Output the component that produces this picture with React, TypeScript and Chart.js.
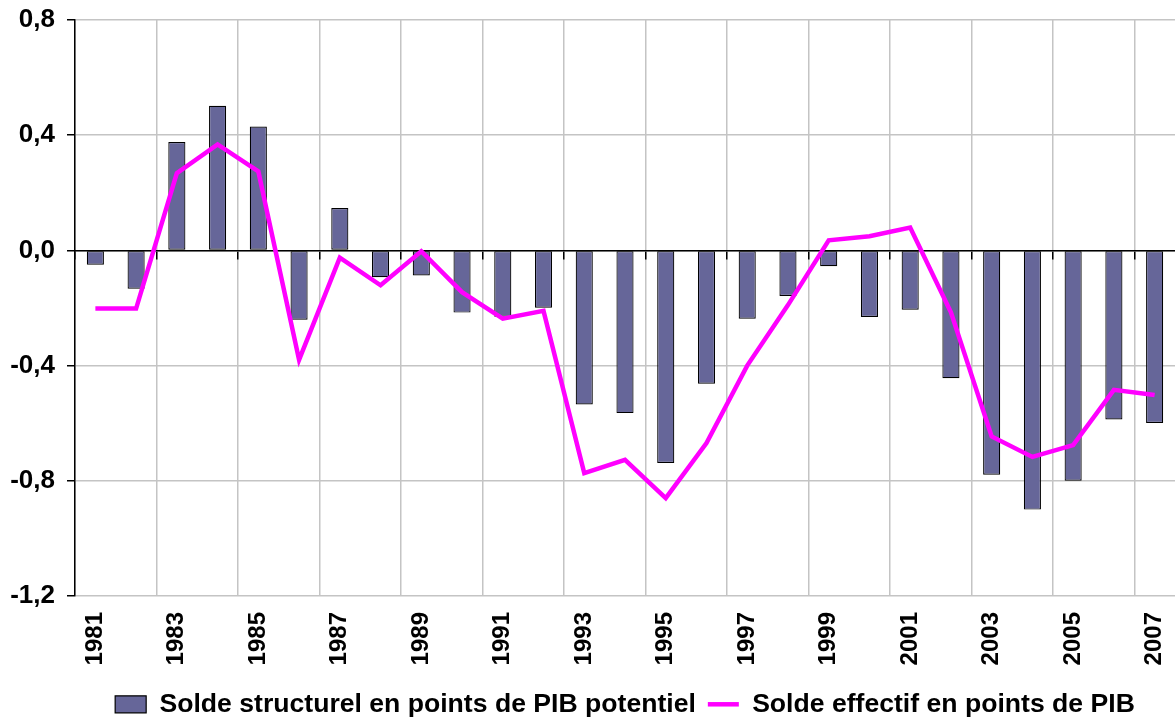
import { useEffect, useRef } from 'react';
import { Chart, registerables } from 'chart.js';

Chart.register(...registerables);

const years = [
  '1981', '1982', '1983', '1984', '1985', '1986', '1987', '1988', '1989', '1990',
  '1991', '1992', '1993', '1994', '1995', '1996', '1997', '1998', '1999', '2000',
  '2001', '2002', '2003', '2004', '2005', '2006', '2007',
];

const structuralBalance = [
  -0.05, -0.133, 0.376, 0.502, 0.43, -0.241, 0.147, -0.093, -0.087, -0.216,
  -0.23, -0.199, -0.535, -0.565, -0.738, -0.463, -0.237, -0.158, -0.055, -0.231,
  -0.206, -0.444, -0.779, -0.9, -0.8, -0.587, -0.599,
];

const effectiveBalance = [
  -0.202, -0.202, 0.268, 0.368, 0.274, -0.38, -0.025, -0.121, -0.003, -0.145,
  -0.237, -0.21, -0.773, -0.727, -0.86, -0.669, -0.4, -0.19, 0.035, 0.049,
  0.079, -0.215, -0.646, -0.717, -0.676, -0.484, -0.502,
];

const seriesNames = [
  'Solde structurel en points de PIB potentiel',
  'Solde effectif en points de PIB',
];

const yMin = -1.2;
const yMax = 0.8;
const yStep = 0.4;

const FONT = '"Liberation Sans", Arial, Helvetica, sans-serif';
const GRID = '#c4c4c4';

function fmt(v: number): string {
  let n = Math.round(Number(v) * 10) / 10;
  if (n === 0) n = 0;
  return n.toFixed(1).replace('.', ',');
}

export default function App() {
  const ref = useRef<HTMLCanvasElement>(null);

  useEffect(() => {
    if (!ref.current) return;
    Chart.defaults.font.family = FONT;
    Chart.defaults.color = '#000';
    const chart = new Chart(ref.current, {
      type: 'bar',
      data: {
        labels: years,
        datasets: [
          {
            type: 'bar',
            label: seriesNames[0],
            data: structuralBalance,
            backgroundColor: '#666699',
            borderColor: '#000000',
            borderWidth: 1.2,
            borderSkipped: false,
            barPercentage: 0.42,
            categoryPercentage: 1,
            order: 1,
            pointStyle: 'rect',
          } as any,
          {
            type: 'line',
            label: seriesNames[1],
            data: effectiveBalance,
            borderColor: '#ff00ff',
            backgroundColor: '#ff00ff',
            borderWidth: 4.5,
            pointRadius: 0,
            pointHoverRadius: 0,
            pointBorderWidth: 4.5,
            pointBorderColor: '#ff00ff',
            pointBackgroundColor: '#ff00ff',
            pointStyle: 'line',
            tension: 0,
            fill: false,
            order: 0,
          } as any,
        ],
      },
      options: {
        responsive: false,
        animation: false,
        layout: { padding: { top: 20, right: 0, left: 0, bottom: 0 } },
        plugins: {
          legend: {
            position: 'bottom',
            fullSize: false,
            maxHeight: 41,
            labels: {
              usePointStyle: true,
              pointStyleWidth: 31,
              boxHeight: 17,
              padding: 12,
              color: '#000',
              font: { size: 26.6, weight: 'bold', family: FONT },
              sort: (a: any, b: any) => a.datasetIndex - b.datasetIndex,
            },
          } as any,
          tooltip: { enabled: false },
        },
        scales: {
          x: {
            type: 'category',
            offset: true,
            grid: {
              offset: true,
              drawTicks: false,
              lineWidth: 1.5,
              color: (ctx: any) => (ctx.index % 2 === 0 ? GRID : 'rgba(0,0,0,0)'),
            },
            border: { display: false },
            ticks: {
              autoSkip: false,
              minRotation: 90,
              maxRotation: 90,
              padding: 16,
              color: '#000',
              font: { size: 24, weight: 'bold', family: FONT },
              callback: (_v: any, i: number) => (i % 2 === 0 ? years[i] : ''),
            },
            afterFit: (s: any) => {
              s.height = 83;
              s.paddingLeft = 0;
              s.paddingRight = 0;
            },
          } as any,
          xZero: {
            type: 'category',
            axis: 'x',
            position: { y: 0 },
            offset: true,
            grid: {
              offset: true,
              drawOnChartArea: false,
              drawTicks: true,
              tickLength: 8,
              lineWidth: 1.5,
              color: (ctx: any) => (ctx.index % 2 === 0 ? '#000' : 'rgba(0,0,0,0)'),
            },
            border: { display: true, color: '#000', width: 1.5 },
            ticks: { display: false },
            afterFit: (s: any) => {
              s.paddingLeft = 0;
              s.paddingRight = 0;
            },
          } as any,
          y: {
            min: yMin,
            max: yMax,
            ticks: {
              stepSize: yStep,
              padding: 12,
              color: '#000',
              font: { size: 26, weight: 'bold', family: FONT },
              callback: (v: any) => fmt(v),
            },
            grid: {
              color: GRID,
              lineWidth: 1.5,
              tickColor: '#000',
              tickLength: 8,
            },
            border: { color: '#000', width: 1.5 },
            afterFit: (s: any) => {
              s.width = 75;
              s.paddingTop = 0;
              s.paddingBottom = 0;
            },
          } as any,
        },
      },
    });
    return () => chart.destroy();
  }, []);

  return (
    <div style={{ position: 'fixed', left: 0, top: 0, width: 1175, height: 720, background: '#fff' }}>
      <canvas ref={ref} width={1175} height={720} style={{ display: 'block' }} />
    </div>
  );
}
